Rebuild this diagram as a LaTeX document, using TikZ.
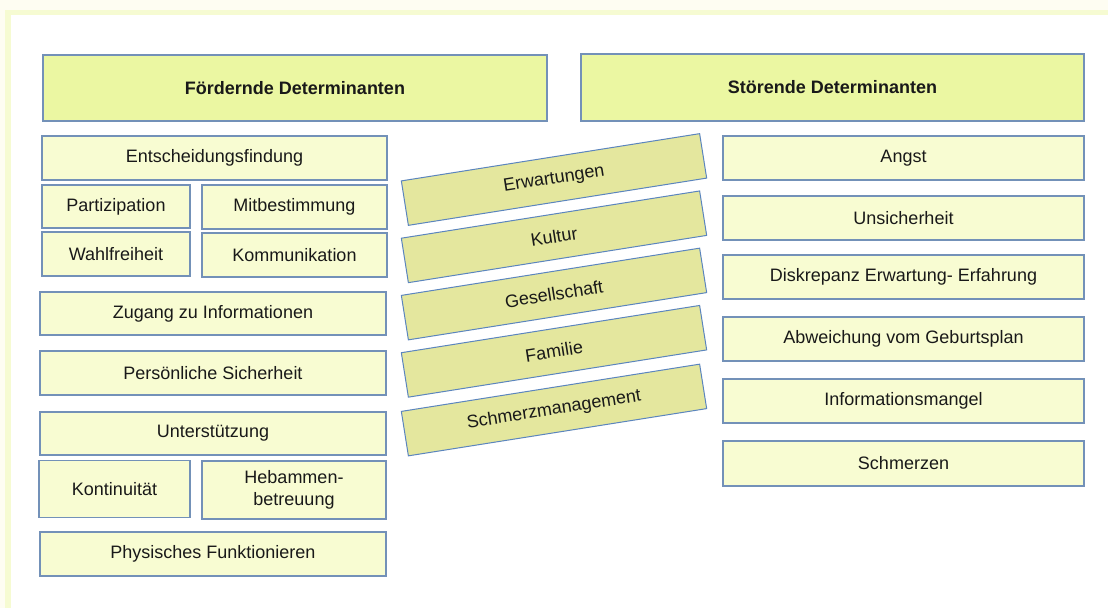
\documentclass[tikz,border=0pt]{standalone}
\usepackage{fontspec}
\setmainfont{Liberation Sans}
\definecolor{pagebg}{HTML}{FEFDF2}
\definecolor{frameyel}{HTML}{F6FBD2}
\definecolor{hdrfill}{HTML}{EBF7A2}
\definecolor{boxfill}{HTML}{F8FCD2}
\definecolor{tiltfill}{HTML}{E4E79E}
\definecolor{boxline}{HTML}{7391B8}
\definecolor{tiltline}{HTML}{5B85BE}
\tikzset{
  basebox/.style={draw=boxline, line width=1.3pt, inner sep=0pt, outer sep=0pt,
    font=\fontsize{18}{22}\selectfont, text=black!90, align=center},
  hdrbox/.style={basebox, fill=hdrfill, font=\fontsize{18}{22}\selectfont\bfseries},
  lbox/.style={basebox, fill=boxfill},
  tiltbox/.style={basebox, fill=tiltfill, draw=tiltline, line width=1pt,
    minimum width=302pt, minimum height=45pt, rotate=9},
}
\begin{document}
\begin{tikzpicture}[x=1pt,y=-1pt]
% background and frame
\fill[pagebg] (0,0) rectangle (1108,608);
\fill[frameyel] (5,10) rectangle (1108,608);
\fill[white] (11,15) rectangle (1108,608);
\useasboundingbox (0,0) rectangle (1108,608);

% headers
\node[hdrbox, minimum width=504pt, minimum height=66pt] (hl) at (295,88) {Fördernde Determinanten};
\node[hdrbox, minimum width=503pt, minimum height=67pt] (hr) at (832.5,87.5) {Störende Determinanten};

% left column
\node[lbox, minimum width=345pt, minimum height=44pt] (ent) at (214.5,158) {Entscheidungsfindung};
\node[lbox, minimum width=148pt, minimum height=43pt] (part) at (116,206.5) {Partizipation};
\node[lbox, minimum width=185pt, minimum height=44pt] (mitb) at (294.5,207) {Mitbestimmung};
\node[lbox, minimum width=148pt, minimum height=44pt] (wahl) at (116,254) {Wahlfreiheit};
\node[lbox, minimum width=185pt, minimum height=44pt] (komm) at (294.5,255) {Kommunikation};
\node[lbox, minimum width=346pt, minimum height=43pt] (zug) at (213,313.5) {Zugang zu Informationen};
\node[lbox, minimum width=346pt, minimum height=44pt] (pers) at (213,373) {Persönliche Sicherheit};
\node[lbox, minimum width=346pt, minimum height=43pt] (unt) at (213,433.5) {Unterstützung};
\node[lbox, minimum width=151pt, minimum height=57pt] (kont) at (114.5,489) {Kontinuität};
\node[lbox, minimum width=184pt, minimum height=58pt] (heb) at (294,490) {Hebammen-\\betreuung};
\node[lbox, minimum width=346pt, minimum height=44pt] (phys) at (213,554) {Physisches Funktionieren};

% middle tilted boxes
\node[tiltbox] (erw) at (554,179.5) {Erwartungen};
\node[tiltbox] (kul) at (554,236.8) {Kultur};
\node[tiltbox] (ges) at (554,294) {Gesellschaft};
\node[tiltbox] (fam) at (554,351.3) {Familie};
\node[tiltbox] (sch) at (554,410) {Schmerzmanagement};

% right column
\node[lbox, minimum width=361pt, minimum height=44pt] (angst) at (903.5,158) {Angst};
\node[lbox, minimum width=361pt, minimum height=44pt] (unsi) at (903.5,218) {Unsicherheit};
\node[lbox, minimum width=361pt, minimum height=44pt] (disk) at (903.5,277) {Diskrepanz Erwartung- Erfahrung};
\node[lbox, minimum width=361pt, minimum height=44pt] (abw) at (903.5,339) {Abweichung vom Geburtsplan};
\node[lbox, minimum width=361pt, minimum height=44pt] (info) at (903.5,401) {Informationsmangel};
\node[lbox, minimum width=361pt, minimum height=45pt] (schm) at (903.5,463.5) {Schmerzen};
\end{tikzpicture}
\end{document}
